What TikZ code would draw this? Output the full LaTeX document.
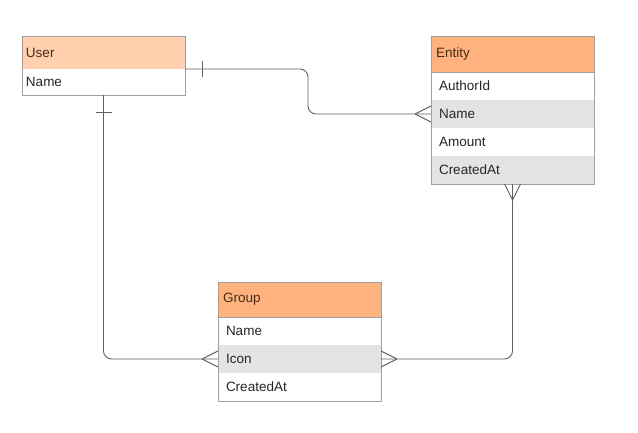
\documentclass[tikz,border=0pt]{standalone}
\usepackage{fontspec}
\setmainfont{Liberation Sans}
\usetikzlibrary{positioning}
\definecolor{hdrlight}{HTML}{FFCFAE}
\definecolor{hdrdark}{HTML}{FFB27D}
\definecolor{rowgray}{HTML}{E4E4E4}
\definecolor{linegray}{HTML}{606060}
\definecolor{boxgray}{HTML}{A0A0A0}
\tikzset{
    cell/.style={anchor=north west, minimum width=163pt, align=left, outer sep=0pt, font=\fontsize{13.5}{15}\selectfont}, % common cell of a table
    hdr/.style={cell, draw=boxgray, line width=0.8pt, fill=hdrdark, inner xsep=5pt, text width=153pt, minimum height=35pt, text=brown!35!black}, % table header
    row/.style={cell, fill=white, inner xsep=8pt, text width=147pt, minimum height=28pt, text=black!85}, % table row
    box/.style={draw=boxgray, line width=0.8pt}, % outer frame
    link/.style={draw=linegray, line width=0.9pt} % relation line
}
\begin{document}
\begin{tikzpicture}[x=1pt, y=1pt]
    \useasboundingbox (0,0) rectangle (638,-433);

    % User
    \node[hdr, fill=hdrlight, minimum height=33pt, inner xsep=4pt, text width=155pt] (userhd) at (22,-36) {User};
    \node[row, inner xsep=4pt, text width=155pt, minimum height=26pt, below=0pt of userhd] (username) {Name};
    \draw[box] (userhd.north west) rectangle (username.south east);

    % Entity
    \node[hdr, minimum height=36pt] (enthd) at (431,-36) {Entity};
    \foreach \n/\t/\c [count=\i from 0] in {author/AuthorId/white, name/Name/rowgray, amount/Amount/white, created/CreatedAt/rowgray}
        {\node[row, fill=\c] (ent\n) at (431,{-72-28*\i}) {\t};}
    \draw[box] (enthd.north west) rectangle (entcreated.south east);
    \draw[box] (enthd.south west) -- (enthd.south east);

    % Group
    \node[hdr] (grphd) at (218,-282) {Group};
    \foreach \n/\t/\c [count=\i from 0] in {name/Name/white, icon/Icon/rowgray, created/CreatedAt/white}
        {\node[row, fill=\c] (grp\n) at (218,{-317-28*\i}) {\t};}
    \draw[box] (grphd.north west) rectangle (grpcreated.south east);
    \draw[box] (grphd.south west) -- (grphd.south east);

    % relations
    \coordinate (bend1) at (308,-90);
    \draw[link, rounded corners=8pt] (userhd.south east) -| (bend1) |- (entname.west);
    \draw[link, rounded corners=8pt] (username.south) |- (grpicon.west);
    \draw[link, rounded corners=8pt] (entcreated.south) |- (grpicon.east);

    % one ends
    \draw[link] (userhd.south east) ++(17,-8) -- ++(0,16);
    \draw[link] (username.south) ++(-8,-17) -- ++(16,0);

    % many ends
    \draw[link] (entname.west) ++(-16,0) -- ++(16,8) (entname.west) ++(-16,0) -- ++(16,-8);
    \draw[link] (grpicon.west) ++(-16,0) -- ++(16,8) (grpicon.west) ++(-16,0) -- ++(16,-8);
    \draw[link] (grpicon.east) ++(16,0) -- ++(-16,8) (grpicon.east) ++(16,0) -- ++(-16,-8);
    \draw[link] (entcreated.south) ++(0,-16) -- ++(-8,16) (entcreated.south) ++(0,-16) -- ++(8,16);
\end{tikzpicture}
\end{document}
